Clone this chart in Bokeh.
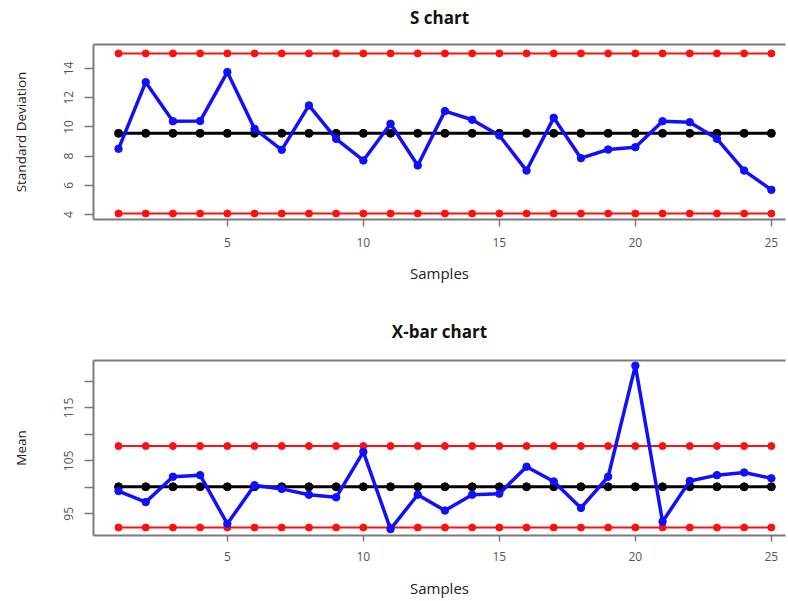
from bokeh.plotting import figure
from bokeh.layouts import column
from bokeh.models import LinearAxis, FixedTicker, Range1d
from bokeh.embed import file_html
from bokeh.resources import INLINE

samples = list(range(1, 26))

# S chart values
s_values = [8.50, 13.06, 10.39, 10.40, 13.75, 9.87, 8.43, 11.47, 9.18, 7.70,
            10.21, 7.36, 11.08, 10.49, 9.41, 7.01, 10.62, 7.86, 8.45, 8.61,
            10.39, 10.32, 9.18, 7.01, 5.69]
s_ucl = 15.03
s_cl = 9.56
s_lcl = 4.07
s_yticks = [4, 6, 8, 10, 12, 14]

# X-bar chart values
xbar_values = [99.3, 97.2, 102.0, 102.3, 93.1, 100.4, 99.7, 98.6, 98.1, 106.7,
               92.1, 98.6, 95.6, 98.6, 98.8, 103.9, 101.1, 96.1, 102.0, 123.0,
               93.5, 101.2, 102.3, 102.8, 101.7]
xbar_ucl = 107.8
xbar_cl = 100.1
xbar_lcl = 92.4
xbar_yticks = [95, 100, 105, 110, 115, 120]
xbar_ylabels = {95: "95", 100: "", 105: "105", 110: "", 115: "115", 120: ""}

x_ticks = [5, 10, 15, 20, 25]

FONT = "Open Sans"
AXIS_COL = "#7a7a7a"
X_RANGE = (0.08, 25.52)


def make_panel(title, ylabel, values, ucl, cl, lcl, yrange, yticks, ylabels,
               height, border_top, border_bottom, tick_out, label_standoff,
               xlabel_standoff, title_standoff):
    p = figure(width=786, height=height, output_backend="svg", toolbar_location=None,
               x_range=Range1d(*X_RANGE), y_range=Range1d(*yrange),
               min_border_left=93, min_border_right=1,
               min_border_top=border_top, min_border_bottom=border_bottom)
    p.outline_line_color = None
    p.grid.visible = False
    p.background_fill_color = "white"

    xa = p.below[0]
    ya = p.left[0]

    # top border drawn as an axis without ticks; its label carries the chart title
    top = LinearAxis(ticker=FixedTicker(ticks=[]), major_tick_out=0, major_tick_in=0,
                     major_label_standoff=0, major_label_text_font_size="0px",
                     minor_tick_line_color=None,
                     axis_line_color=AXIS_COL, axis_line_width=2,
                     axis_label=title, axis_label_standoff=title_standoff,
                     axis_label_text_font=FONT, axis_label_text_font_size="17px",
                     axis_label_text_font_style="bold", axis_label_text_color="#111111")
    p.add_layout(top, "above")

    n = len(samples)
    # limit lines
    for val, col, lw, sz in [(ucl, "#ff1010", 2, 7), (lcl, "#ff1010", 2, 7), (cl, "black", 3, 8)]:
        ys = [val] * n
        p.line(samples, ys, line_color=col, line_width=lw)
        p.scatter(samples, ys, size=sz, color=col)

    p.line(samples, values, line_color="#1010ff", line_width=3.5)
    p.scatter(samples, values, size=7.5, color="#1010ff")

    for ax in (xa, ya):
        ax.axis_line_color = AXIS_COL
        ax.axis_line_width = 2
        ax.major_tick_line_color = AXIS_COL
        ax.major_tick_line_width = 1.5
        ax.minor_tick_line_color = None
        ax.major_tick_in = 0
        ax.major_label_text_font = FONT
        ax.major_label_text_font_size = "12px"
        ax.major_label_text_color = "#555555"
        ax.axis_label_text_font = FONT
        ax.axis_label_text_font_style = "normal"
        ax.axis_label_text_color = "#222222"

    xa.ticker = FixedTicker(ticks=x_ticks)
    xa.major_tick_out = tick_out
    xa.major_label_standoff = label_standoff
    xa.axis_label = "Samples"
    xa.axis_label_text_font_size = "15px"
    xa.axis_label_standoff = xlabel_standoff

    ya.ticker = FixedTicker(ticks=yticks)
    if ylabels:
        ya.major_label_overrides = ylabels
    ya.major_label_orientation = "vertical"
    ya.major_tick_out = 9
    ya.major_label_standoff = 11
    ya.axis_label = ylabel
    ya.axis_label_text_font_size = "13.5px"
    ya.axis_label_standoff = 32
    return p


p1 = make_panel("S chart", "Standard Deviation", s_values, s_ucl, s_cl, s_lcl,
                (3.66, 15.64), s_yticks, None, 300, 44, 81, 7, 11, 13, 16)
p2 = make_panel("X-bar chart", "Mean", xbar_values, xbar_ucl, xbar_cl, xbar_lcl,
                (90.89, 123.97), xbar_yticks, xbar_ylabels, 300, 60, 63, 6, 10, 14, 18)

layout = column(p1, p2, spacing=0)
open("out.html", "w").write(file_html(layout, INLINE))
